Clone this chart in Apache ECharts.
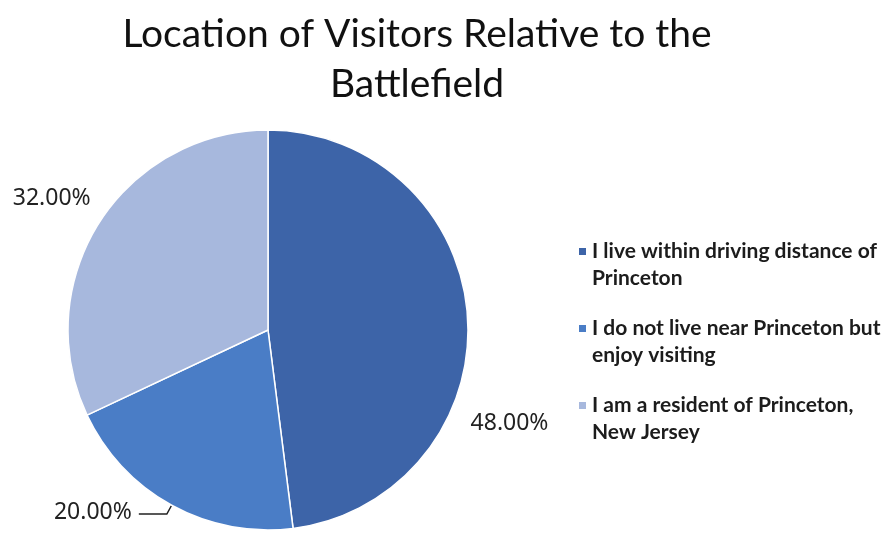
<!DOCTYPE html>
<html>
<head>
<meta charset="utf-8">
<script src="https://cdn.jsdelivr.net/npm/echarts@6/dist/echarts.min.js"></script>
<style>
  html, body { margin: 0; padding: 0; background: #ffffff; }
  #chart { width: 887px; height: 535px; }
</style>
</head>
<body>
<div id="chart"></div>
<script>
// Survey answers and their shares (percent)
const categories = [
  'I live within driving distance of\nPrinceton',
  'I do not live near Princeton but\nenjoy visiting',
  'I am a resident of Princeton,\nNew Jersey'
];
const shares = [48, 20, 32];
const sliceColors = ['#3D64A8', '#4A7DC6', '#A7B8DD'];
const titleText = 'Location of Visitors Relative to the\nBattlefield';

// Extra nudges for the percentage labels (px)
const labelNudge = [
  { dx: -42, dy: 107 },
  { dx: 0, dy: -2 },
  { dx: 35, dy: -19 }
];

// Legend marker: a small square sitting beside the first text line
const legendIcon = 'path://M0,0L0,0M0,9L9,9L9,18L0,18ZM9,54L9,54';

const chart = echarts.init(document.getElementById('chart'), null, { renderer: 'canvas' });

chart.setOption({
  backgroundColor: '#ffffff',
  animation: false,
  title: {
    text: titleText,
    left: 412,
    textAlign: 'center',
    top: 4,
    textStyle: {
      fontFamily: 'Lato',
      fontWeight: 'normal',
      fontSize: 39,
      lineHeight: 50,
      color: '#111111'
    }
  },
  legend: {
    orient: 'vertical',
    left: 572,
    top: 232,
    itemWidth: 9,
    itemHeight: 54,
    itemGap: 21,
    icon: legendIcon,
    data: categories,
    textStyle: {
      fontFamily: 'Lato',
      fontWeight: 'bold',
      fontSize: 21,
      lineHeight: 27,
      color: '#1c1c1c'
    }
  },
  series: [{
    type: 'pie',
    center: [268, 330],
    radius: 200,
    startAngle: 90,
    clockwise: true,
    avoidLabelOverlap: false,
    itemStyle: { borderColor: '#ffffff', borderWidth: 1.5 },
    label: {
      show: true,
      position: 'outside',
      formatter: p => p.value.toFixed(2) + '%',
      fontFamily: 'Noto Sans',
      fontSize: 23,
      color: '#222222',
      distanceToLabelLine: 7
    },
    labelLine: {
      show: true,
      length: 10,
      length2: 28,
      lineStyle: { color: '#222222', width: 1.5 }
    },
    labelLayout: p => labelNudge[p.dataIndex],
    data: categories.map((name, i) => ({
      name: name,
      value: shares[i],
      itemStyle: { color: sliceColors[i] },
      labelLine: { show: i === 1 }
    }))
  }]
});
</script>
</body>
</html>
